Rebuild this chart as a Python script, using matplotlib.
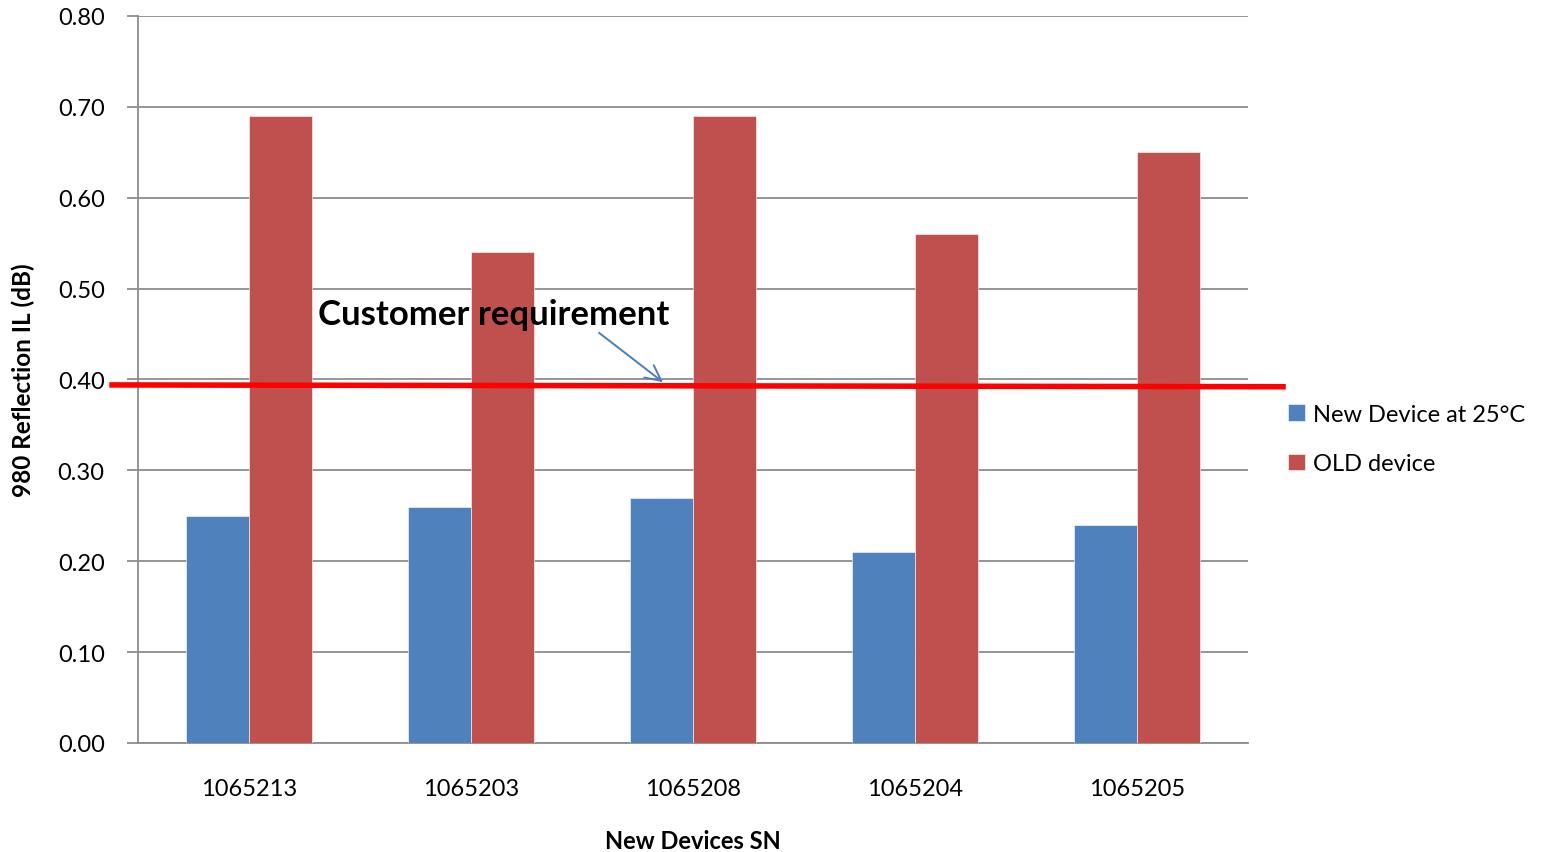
import matplotlib.pyplot as plt
import numpy as np

plt.rcParams["font.family"] = ["Lato", "DejaVu Sans"]

devices = ["1065213", "1065203", "1065208", "1065204", "1065205"]
new_device = [0.25, 0.26, 0.27, 0.21, 0.24]
old_device = [0.69, 0.54, 0.69, 0.56, 0.65]
requirement = 0.393

BLUE, RED, GRID = "#4F81BD", "#C0504D", "#8C8C8C"

fig = plt.figure(figsize=(15.46, 8.53), dpi=100)
ax = fig.add_axes([0.0893, 0.1278, 0.7179, 0.8523])

x = np.arange(len(devices))
w = 0.284
ax.bar(x - w / 2, new_device, w, color=BLUE, edgecolor="white", lw=0.4,
       label="New Device at 25°C", zorder=3)
ax.bar(x + w / 2, old_device, w, color=RED, edgecolor="white", lw=0.4,
       label="OLD device", zorder=3)

ax.set_xlim(-0.5, len(devices) - 0.5)
ax.set_ylim(0, 0.8)
ax.set_yticks(np.arange(0, 0.81, 0.1))
ax.set_yticklabels([f"{v:.2f}" for v in np.arange(0, 0.81, 0.1)])
ax.set_xticks(x)
ax.set_xticklabels(devices)
ax.tick_params(axis="y", length=8, color=GRID, width=1.3, labelsize=17, pad=16)
ax.tick_params(axis="x", length=0, labelsize=17, pad=25)
ax.grid(axis="y", color=GRID, lw=1.3, zorder=0)
ax.set_axisbelow(True)
for s in ("top", "right"):
    ax.spines[s].set_visible(False)
for s in ("left", "bottom"):
    ax.spines[s].set_color(GRID)
    ax.spines[s].set_linewidth(1.3)

ax.set_ylabel("980 Reflection IL (dB)", fontsize=17.5, fontweight="bold", labelpad=16)
ax.set_xlabel("New Devices SN", fontsize=17, fontweight="bold", labelpad=22)

# spec limit, runs slightly past both ends of the plot area
ax.plot([-0.617, 4.658], [requirement + 0.001, requirement - 0.001],
        color="#FF0000", lw=4, clip_on=False, zorder=5)
ax.annotate("Customer requirement", xy=(1.865, requirement + 0.004),
            xytext=(0.31, 0.461), fontsize=25, fontweight="bold",
            arrowprops=dict(arrowstyle="->", color="#4A7EBB", lw=1.4,
                            mutation_scale=28, shrinkA=0, shrinkB=0,
                            relpos=(0.79, 0.0)),
            zorder=6)

fig.legend(loc="center left", bbox_to_anchor=(1288 / 1546, 1 - 440 / 853),
           bbox_transform=fig.transFigure, frameon=False, fontsize=17,
           handlelength=0.7, handleheight=0.7, handletextpad=0.35,
           labelspacing=1.2, borderpad=0, borderaxespad=0)

fig.savefig("out.png", facecolor="white")
